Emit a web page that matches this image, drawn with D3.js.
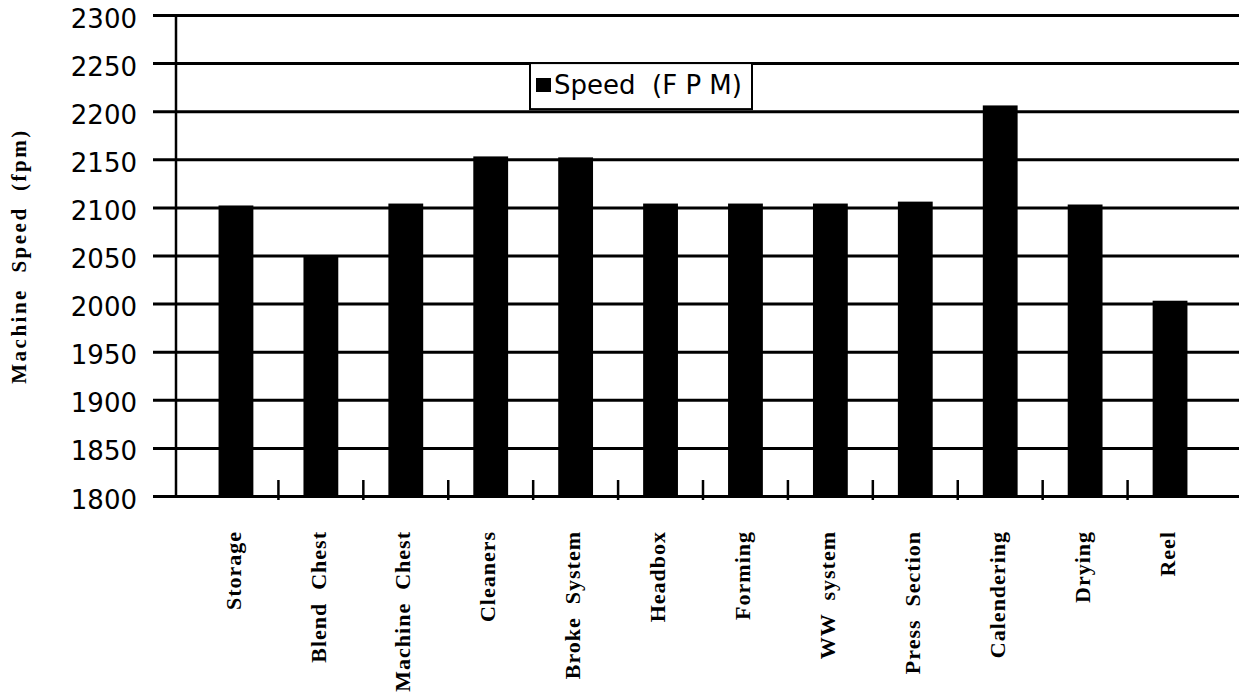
<!DOCTYPE html>
<html>
<head>
<meta charset="utf-8">
<script src="https://cdn.jsdelivr.net/npm/d3@7"></script>
<style>
  html, body { margin: 0; padding: 0; background: #fff; }
  svg { display: block; }
</style>
</head>
<body>
<svg id="chart" width="1239" height="696"></svg>
<script>
// chart data
var categories = ["Storage", "Blend Chest", "Machine Chest", "Cleaners", "Broke System", "Headbox",
                  "Forming", "WW system", "Press Section", "Calendering", "Drying", "Reel"];
var speeds = [2102, 2050, 2104, 2153, 2152, 2104, 2104, 2104, 2106, 2206, 2103, 2003];
var yTicks = [1800, 1850, 1900, 1950, 2000, 2050, 2100, 2150, 2200, 2250, 2300];
var legendLabel = "Speed  (F P M)";
var yTitle = "Machine  Speed  (fpm)";

var svg = d3.select("#chart");
var W = 1239;
var axisX = 176, gridLeft = 153, plotTop = 15, base = 496;

var y = d3.scaleLinear().domain([1800, 2300]).range([base, plotTop]);
var x = d3.scaleBand().domain(categories).range([193.5, 1212.5]).padding(0);
var barW = x.bandwidth() * 0.41;

// gridlines + tick labels
var yAxis = d3.axisLeft(y)
  .tickValues(yTicks)
  .tickSize(-(W - gridLeft))
  .tickPadding(16)
  .tickFormat(d3.format("d"));

var gy = svg.append("g")
  .attr("transform", "translate(" + gridLeft + ",0)")
  .call(yAxis);
gy.select(".domain").remove();
gy.selectAll(".tick line")
  .attr("stroke", "#000")
  .attr("stroke-width", 3);
gy.selectAll(".tick text")
  .attr("dy", null)
  .attr("y", 12)
  .attr("fill", "#000")
  .style("font-family", "'DejaVu Sans', sans-serif")
  .style("font-size", "26px");

// vertical axis line
svg.append("line")
  .attr("x1", axisX).attr("x2", axisX)
  .attr("y1", plotTop).attr("y2", base)
  .attr("stroke", "#000").attr("stroke-width", 2.5);

// bars
svg.append("g").selectAll("rect")
  .data(speeds)
  .join("rect")
  .attr("x", function(d, i) { return x(categories[i]) + (x.bandwidth() - barW) / 2; })
  .attr("y", function(d) { return y(d); })
  .attr("width", barW)
  .attr("height", function(d) { return base - y(d); })
  .attr("fill", "#000");

// category boundary ticks on the base line
svg.append("g").selectAll("line")
  .data(categories.slice(0, -1))
  .join("line")
  .attr("x1", function(c) { return x(c) + x.bandwidth(); })
  .attr("x2", function(c) { return x(c) + x.bandwidth(); })
  .attr("y1", base - 16).attr("y2", base + 4)
  .attr("stroke", "#000").attr("stroke-width", 2.5);

// category labels
svg.append("g").selectAll("text")
  .data(categories)
  .join("text")
  .attr("transform", function(c) {
    return "translate(" + (x(c) + x.bandwidth() / 2 - 3) + ",531) rotate(-90)";
  })
  .attr("dy", "0.35em")
  .attr("text-anchor", "end")
  .style("font-family", "'Liberation Serif', 'Times New Roman', serif")
  .style("font-weight", "bold")
  .style("font-size", "22px")
  .style("letter-spacing", "1px")
  .style("white-space", "pre")
  .text(function(c) { return c.replace(" ", "  "); });

// y axis title
svg.append("text")
  .attr("transform", "translate(19,256) rotate(-90)")
  .attr("dy", "0.35em")
  .attr("text-anchor", "middle")
  .style("font-family", "'Liberation Serif', 'Times New Roman', serif")
  .style("font-weight", "bold")
  .style("font-size", "21px")
  .style("letter-spacing", "2.5px")
  .style("white-space", "pre")
  .text(yTitle);

// legend
var lg = svg.append("g");
lg.append("rect")
  .attr("x", 530).attr("y", y(2250)).attr("width", 222).attr("height", 46)
  .attr("fill", "#fff").attr("stroke", "#000").attr("stroke-width", 2);
lg.append("rect")
  .attr("x", 536).attr("y", 78).attr("width", 15).attr("height", 14)
  .attr("fill", "#000");
lg.append("text")
  .attr("x", 554).attr("y", 94)
  .style("font-family", "'DejaVu Sans', sans-serif")
  .style("font-size", "26px")
  .style("white-space", "pre")
  .text(legendLabel);
</script>
</body>
</html>
